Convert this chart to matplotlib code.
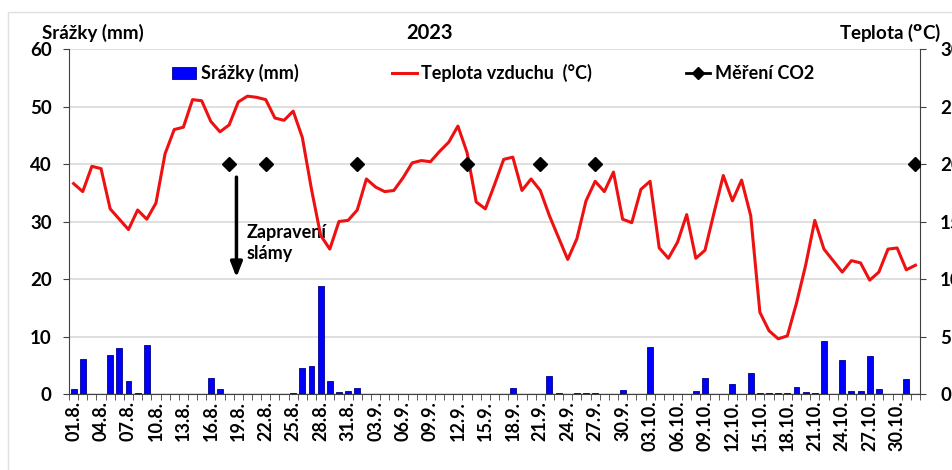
import matplotlib
matplotlib.use("Agg")
import matplotlib.pyplot as plt
import numpy as np
import pandas as pd
from matplotlib.lines import Line2D
from matplotlib.patches import Rectangle

plt.rcParams["font.family"] = ["Lato", "DejaVu Sans"]
plt.rcParams["font.weight"] = "bold"

# daily values 01.8. - 01.11.2023
days = pd.date_range("2023-08-01", "2023-11-01", freq="D")
day_labels = [f"{d.day:02d}.{d.month}." for d in days]

temperature = [
    18.3, 17.6, 19.8, 19.6, 16.1, 15.2, 14.3, 16.0, 15.2, 16.6,
    20.9, 23.0, 23.2, 25.6, 25.5, 23.7, 22.8, 23.4, 25.4, 25.9,
    25.8, 25.6, 24.0, 23.8, 24.6, 22.3, 17.8, 13.8, 12.6, 15.0,
    15.1, 16.0, 18.7, 18.0, 17.6, 17.7, 18.8, 20.1, 20.3, 20.2,
    21.1, 21.9, 23.3, 21.0, 16.7, 16.1, 18.2, 20.4, 20.6, 17.7,
    18.7, 17.7, 15.5, 13.6, 11.7, 13.5, 16.8, 18.5, 17.6, 19.3,
    15.2, 14.9, 17.8, 18.5, 12.7, 11.8, 13.2, 15.6, 11.8, 12.5,
    15.8, 19.0, 16.8, 18.6, 15.5, 7.1, 5.5, 4.8, 5.05, 7.9,
    11.2, 15.1, 12.6, 11.6, 10.6, 11.6, 11.4, 9.9, 10.6, 12.6,
    12.7, 10.8, 11.2,
]

precipitation = [
    0.9, 6.1, 0, 0, 6.8, 8.0, 2.2, 0.15, 8.5, 0,
    0, 0, 0, 0, 0, 2.7, 0.9, 0, 0, 0,
    0, 0, 0, 0, 0.1, 4.5, 4.9, 18.8, 2.3, 0.35,
    0.5, 1.05, 0, 0, 0, 0, 0, 0, 0, 0,
    0, 0, 0, 0, 0, 0, 0, 0, 1.0, 0,
    0, 0, 3.2, 0.1, 0, 0.1, 0.1, 0.1, 0, 0,
    0.7, 0, 0, 8.1, 0, 0, 0, 0, 0.6, 2.8,
    0, 0, 1.7, 0, 3.7, 0.1, 0.1, 0.1, 0.1, 1.2,
    0.35, 0.1, 9.3, 0, 6.0, 0.6, 0.6, 6.6, 0.8, 0,
    0, 2.6, 0,
]

co2_days = [17, 21, 31, 43, 51, 57, 92]
co2_level = 20  # drawn on the temperature axis

x = np.arange(len(days))

fig = plt.figure(figsize=(9.53, 4.70), dpi=100)
ax = fig.add_axes([0.0724, 0.1617, 0.8930, 0.7340])
ax2 = ax.twinx()

grid_col = "#d9d9d9"
ax.set_ylim(0, 60)
ax.set_yticks(range(0, 61, 10))
ax.yaxis.grid(True, color=grid_col, linewidth=1.2)
ax.set_axisbelow(True)
ax.bar(x, precipitation, width=0.65, color="#0000ff", edgecolor="#00008b", linewidth=0.6, zorder=3)

ax2.set_ylim(0, 30)
ax2.set_yticks(range(0, 31, 5))
ax2.plot(x, temperature, color="#ee1111", linewidth=2.2, zorder=4)
ax2.plot([x[i] for i in co2_days], [co2_level] * len(co2_days), linestyle="none",
         marker="D", markersize=7, color="black", zorder=5)

ax.set_xlim(-0.5, len(days) - 0.5)
ax.set_xticks(x[::3])
ax.set_xticklabels(day_labels[::3], rotation=90, fontsize=13, fontweight="bold")
ax.tick_params(axis="x", length=0, pad=5)
ax.set_xticks(np.arange(-0.5, len(days), 1), minor=True)
ax.tick_params(axis="x", which="minor", length=4.5, color="#404040", direction="out")

for a in (ax, ax2):
    for s in a.spines.values():
        s.set_visible(False)
ax.spines["left"].set_visible(True)
ax.spines["left"].set_color("#404040")
ax.spines["bottom"].set_visible(True)
ax.spines["bottom"].set_color("#404040")
ax2.spines["right"].set_visible(True)
ax2.spines["right"].set_color("#404040")

ax.tick_params(axis="y", length=4.5, color="#404040", labelsize=13.5, pad=8)
ax2.tick_params(axis="y", length=4.5, color="#404040", labelsize=13.5, pad=10)
for lab in ax.get_yticklabels() + ax2.get_yticklabels():
    lab.set_fontweight("bold")

# arrow + note
ax2.annotate("", xy=(17.8, 9.9), xytext=(17.8, 19.1),
             arrowprops=dict(arrowstyle="-|>,head_length=0.9,head_width=0.35",
                             color="black", linewidth=2.5))
ax2.text(18.9, 14.8, "Zapravení\nslámy", fontsize=13, fontweight="bold",
         va="top", ha="left", linespacing=1.3)

# titles
fig.text(0.451, 0.93, "2023", fontsize=14.5, fontweight="bold", ha="center", va="center")
fig.text(0.044, 0.93, "Srážky (mm)", fontsize=13.5, fontweight="bold", ha="left", va="center")
fig.text(0.988, 0.93, r"Teplota ($\mathbf{^o}$C)", fontsize=13.5, fontweight="bold",
         ha="right", va="center")

handles = [
    Rectangle((0, 0), 1, 1, facecolor="#0000ff", edgecolor="#00008b", linewidth=0.6),
    Line2D([], [], color="#ee1111", linewidth=2.2),
    Line2D([], [], color="black", linewidth=2.0, marker="D", markersize=6),
]
labels = ["Srážky (mm)", "Teplota vzduchu  (°C)", "Měření CO2"]
leg = ax2.legend(handles, labels, loc="center", bbox_to_anchor=(0.498, 0.93), ncol=3,
                 frameon=False, columnspacing=5.2, handlelength=1.35,
                 handletextpad=0.25, prop={"weight": "bold", "size": 13})

# faint chart border
fig.patches.append(Rectangle((8 / 953, -0.1), 1.2, 1 - 12 / 470 + 0.1,
                             transform=fig.transFigure, fill=False,
                             edgecolor="#e0e0e0", linewidth=1.0))

fig.savefig("out.png", dpi=100)
